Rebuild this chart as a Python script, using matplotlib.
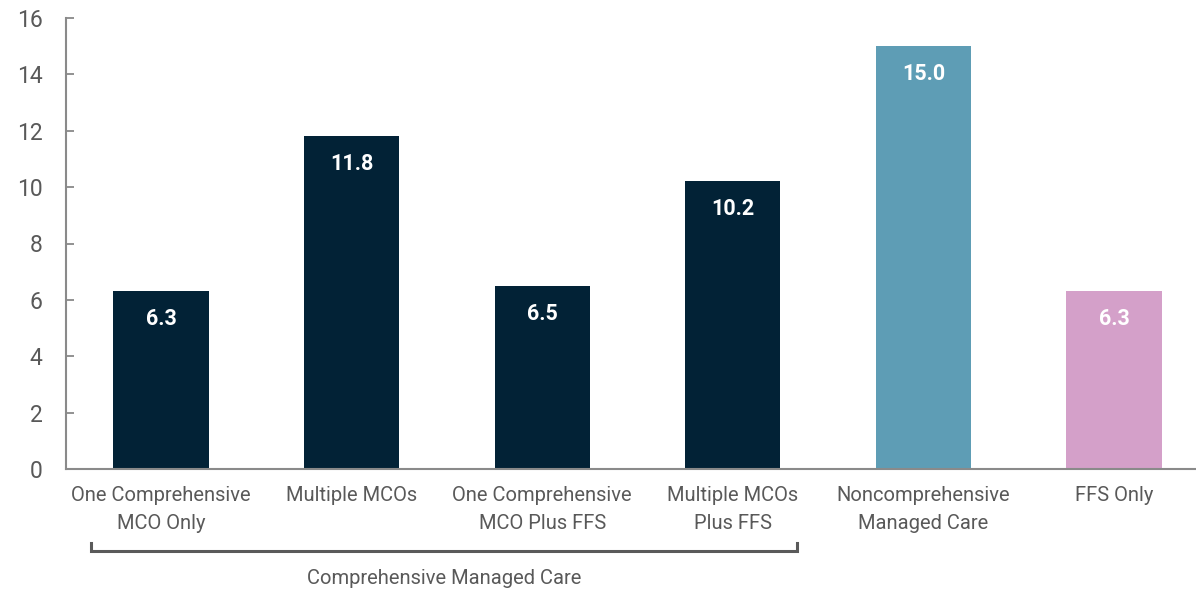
import matplotlib.pyplot as plt
from matplotlib.transforms import blended_transform_factory

categories = ["One Comprehensive\nMCO Only", "Multiple MCOs",
              "One Comprehensive\nMCO Plus FFS", "Multiple MCOs\nPlus FFS",
              "Noncomprehensive\nManaged Care", "FFS Only"]
values = [6.3, 11.8, 6.5, 10.2, 15.0, 6.3]
colors = ["#022236", "#022236", "#022236", "#022236", "#5e9db5", "#d4a0c9"]
group_label = "Comprehensive Managed Care"
group_span = (0, 3)

plt.rcParams['font.family'] = ['Roboto', 'DejaVu Sans']
text_gray = "#595959"

fig = plt.figure(figsize=(11.96, 5.92), dpi=100)
ax = fig.add_axes([66 / 1196, 1 - 469 / 592, 1 - 66 / 1196, (469 - 18) / 592])

x = list(range(len(categories)))
bars = ax.bar(x, values, width=0.5, color=colors)

for b, v in zip(bars, values):
    ax.annotate(f"{v:.1f}", (b.get_x() + b.get_width() / 2, v),
                xytext=(0, -20), textcoords='offset points',
                ha='center', va='center', color='white',
                fontsize=15.5, fontweight='bold')

ax.set_xlim(-0.498, 5.43)
ax.set_ylim(0, 16)
ax.set_yticks(range(0, 17, 2))
ax.set_xticks(x)
ax.set_xticklabels(categories, fontsize=14.5, color=text_gray, linespacing=1.6)
ax.tick_params(axis='x', length=0, pad=12.5)
ax.tick_params(axis='y', direction='in', length=6, width=1.2, color="#7f7f7f",
               labelsize=16.5, labelcolor=text_gray, pad=17)

for s in ['top', 'right']:
    ax.spines[s].set_visible(False)
for s in ['left', 'bottom']:
    ax.spines[s].set_color("#8a8a8a")
    ax.spines[s].set_linewidth(1.5)

# bracket below the comprehensive managed care group
trans = blended_transform_factory(ax.transData, ax.transAxes)
x0 = group_span[0] - 0.367
x1 = group_span[1] + 0.337
yb = -(551 - 469) / 451
yt = -(543 - 469) / 451
ax.plot([x0, x0, x1, x1], [yt, yb, yb, yt], color="#5a5a5a", lw=2.2,
        transform=trans, clip_on=False, solid_joinstyle='miter')
ax.text((x0 + x1) / 2, -(578 - 469) / 451, group_label, transform=trans,
        ha='center', va='center', fontsize=14.5, color=text_gray)

fig.savefig("out.png", dpi=100)
